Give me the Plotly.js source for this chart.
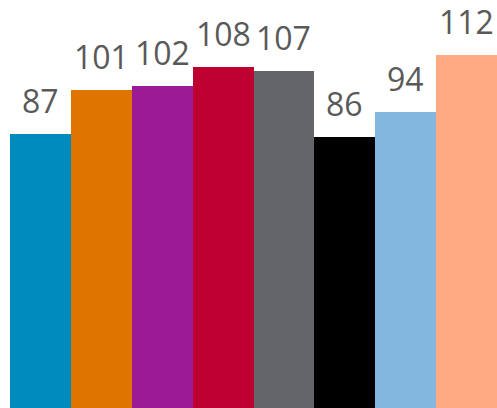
<!DOCTYPE html>
<html>
<head>
<meta charset="utf-8">
<script src="https://cdn.plot.ly/plotly-3.0.1.min.js"></script>
<style>html,body{margin:0;padding:0;background:#fff;}#chart{width:497px;height:408px;}</style>
</head>
<body>
<div id="chart"></div>
<script>
const categories = ["A", "B", "C", "D", "E", "F", "G", "H"];
const values = [87, 101, 102, 108, 107, 86, 94, 112];
const colors = ["#008BBF", "#E07400", "#9C1A95", "#BE0030", "#636569", "#000000", "#84B7DF", "#FFAA83"];

const trace = {
  type: "bar",
  x: categories,
  y: values,
  marker: { color: colors, line: { width: 0 } },
  hoverinfo: "none"
};

const annotations = categories.map((c, i) => ({
  x: c,
  y: values[i],
  xref: "x",
  yref: "y",
  text: String(values[i]),
  showarrow: false,
  yanchor: "bottom",
  xanchor: "center",
  yshift: 10,
  font: { family: "Open Sans, Liberation Sans, sans-serif", size: 32, color: "#595959" }
}));

const layout = {
  width: 497,
  height: 408,
  margin: { l: 10, r: 0, t: 0, b: 0, pad: 0 },
  paper_bgcolor: "#ffffff",
  plot_bgcolor: "#ffffff",
  bargap: 0,
  showlegend: false,
  annotations: annotations,
  xaxis: { visible: false, range: [-0.5, 7.5], fixedrange: true },
  yaxis: { visible: false, range: [0, 129.4], fixedrange: true }
};

Plotly.newPlot("chart", [trace], layout, { displayModeBar: false, staticPlot: true });
</script>
</body>
</html>
